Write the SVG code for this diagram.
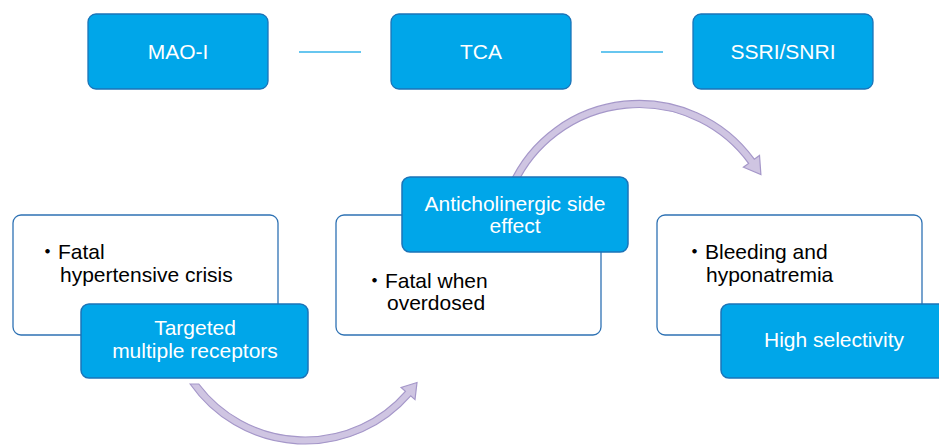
<svg xmlns="http://www.w3.org/2000/svg" width="939" height="445" viewBox="0 0 939 445">
<style>
.top{fill:#00a6e9;stroke:#1b74b8;stroke-width:1.3}
.blue{fill:#00a6e9;stroke:#1b74b8;stroke-width:1.5}
.white{fill:#ffffff;stroke:#2e72b4;stroke-width:1.3}
.arrow{fill:#cfc5e2;stroke:#a597c9;stroke-width:1.2;stroke-linejoin:miter}
.line{stroke:#35b3ea;stroke-width:1.4;fill:none}
text{font-family:"Liberation Sans","Noto Sans CJK JP",Arial,sans-serif;font-size:21px}
.wt{fill:#ffffff;text-anchor:middle}
.bk{fill:#000000}
</style>
<rect width="939" height="445" fill="#ffffff"/>
<g id="connectors">
<line class="line" x1="299" y1="52" x2="361" y2="52"/>
<line class="line" x1="601" y1="52" x2="663" y2="52"/>
<path class="arrow" d="M190.1,384 A140 140 0 0 0 410.7,395.8 L415,399.6 L417,382.5 L401.1,387.5 L405.4,391.3 A133 133 0 0 1 198.8,384 Z"/>
<path class="arrow" d="M508.8,185 A142.5 142.5 0 0 1 754.3,159.2 L759.5,155.4 L760.9,174.6 L743.4,167.2 L748.6,163.4 A135.5 135.5 0 0 0 516.5,185 Z"/>
</g>
<g id="mao">
<rect class="top" x="88" y="14" width="180" height="75" rx="8"/>
<text class="wt" x="178" y="59">MAO-I</text>
</g>
<g id="tca">
<rect class="top" x="391" y="14" width="180" height="75" rx="8"/>
<text class="wt" x="481" y="59">TCA</text>
</g>
<g id="ssri">
<rect class="top" x="693" y="14" width="180" height="75" rx="8"/>
<text class="wt" x="783" y="59">SSRI/SNRI</text>
</g>
<g id="mao-detail">
<rect class="white" x="13" y="215" width="265" height="120" rx="8"/>
<text class="bk" x="37" y="259">・Fatal</text>
<text class="bk" x="60" y="282">hypertensive crisis</text>
</g>
<g id="mao-feature">
<rect class="blue" x="81" y="304" width="227" height="74" rx="8"/>
<text class="wt" x="195" y="335">Targeted</text>
<text class="wt" x="195" y="358">multiple receptors</text>
</g>
<g id="tca-detail">
<rect class="white" x="336" y="215" width="265" height="120" rx="8"/>
<text class="bk" x="364" y="288">・Fatal when</text>
<text class="bk" x="387" y="310">overdosed</text>
</g>
<g id="tca-feature">
<rect class="blue" x="402" y="177" width="226" height="75" rx="8"/>
<text class="wt" x="515" y="211">Anticholinergic side</text>
<text class="wt" x="515" y="233">effect</text>
</g>
<g id="ssri-detail">
<rect class="white" x="657" y="215" width="265" height="120" rx="8"/>
<text class="bk" x="684" y="259">・Bleeding and</text>
<text class="bk" x="706" y="282">hyponatremia</text>
</g>
<g id="ssri-feature">
<rect class="blue" x="721" y="304" width="227" height="74" rx="8"/>
<text class="wt" x="834" y="347">High selectivity</text>
</g>
</svg>
